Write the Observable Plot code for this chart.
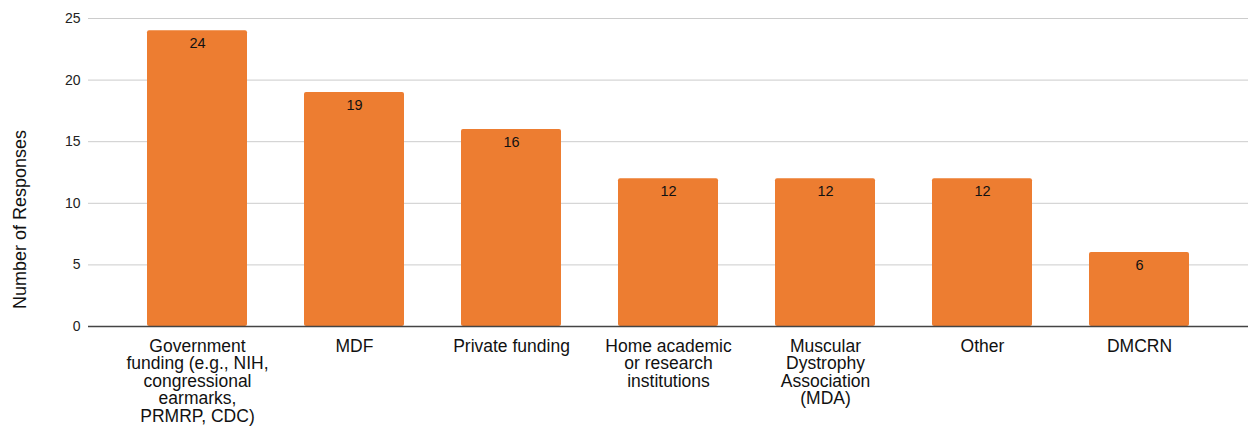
<!DOCTYPE html>
<html>
<head>
<meta charset="utf-8">
<script src="https://cdn.jsdelivr.net/npm/d3@7"></script>
<script src="https://cdn.jsdelivr.net/npm/@observablehq/plot@0.6"></script>
<style>
  html, body { margin: 0; padding: 0; background: #fff; }
  body { width: 1248px; height: 429px; overflow: hidden; }
  svg { font-family: "Liberation Sans", Arial, sans-serif; }
</style>
</head>
<body>
<div id="chart"></div>
<script>
const categories = [
  "Government funding (e.g., NIH, congressional earmarks, PRMRP, CDC)",
  "MDF",
  "Private funding",
  "Home academic or research institutions",
  "Muscular Dystrophy Association (MDA)",
  "Other",
  "DMCRN"
];
const tickLabels = [
  "Government\nfunding (e.g., NIH,\ncongressional\nearmarks,\nPRMRP, CDC)",
  "MDF",
  "Private funding",
  "Home academic\nor research\ninstitutions",
  "Muscular\nDystrophy\nAssociation\n(MDA)",
  "Other",
  "DMCRN"
];
const responses = [24, 19, 16, 12, 12, 12, 6];
const yTicks = [0, 5, 10, 15, 20, 25];
const yTitle = "Number of Responses";

const data = categories.map((c, i) => ({category: c, value: responses[i]}));
const labelOf = new Map(categories.map((c, i) => [c, tickLabels[i]]));

const chart = Plot.plot({
  width: 1248,
  height: 429,
  marginLeft: 88,
  marginRight: 0,
  marginTop: 18,
  marginBottom: 103,
  style: {fontFamily: "'Liberation Sans', Arial, sans-serif", background: "#fff"},
  x: {domain: categories, paddingInner: 0.36, paddingOuter: 0.355, label: null},
  y: {domain: [0, 25], label: null},
  marks: [
    Plot.gridY(yTicks, {stroke: "#cccccc", strokeOpacity: 1, strokeWidth: 1}),
    Plot.axisY(yTicks, {tickSize: 0, tickPadding: 8, fontSize: 14, fill: "#222", label: null}),
    Plot.axisX({tickSize: 0, tickPadding: 13, fontSize: 17.5, lineHeight: 1, fill: "#111",
      tickFormat: d => labelOf.get(d), label: null}),
    Plot.barY(data, {x: "category", y: "value", fill: "#ED7D31", rx: 2}),
    Plot.ruleY([0], {stroke: "#444", strokeWidth: 1.5}),
    Plot.text(data, {x: "category", y: "value", text: d => String(d.value), dy: 13, fontSize: 14.5, fill: "#111", lineAnchor: "middle"}),
    Plot.text([yTitle], {frameAnchor: "left", text: d => d, rotate: -90, fontSize: 18, fill: "#111",
      lineAnchor: "middle", textAnchor: "middle", dx: -68, dy: 47})
  ]
});
document.getElementById("chart").appendChild(chart);
</script>
</body>
</html>
